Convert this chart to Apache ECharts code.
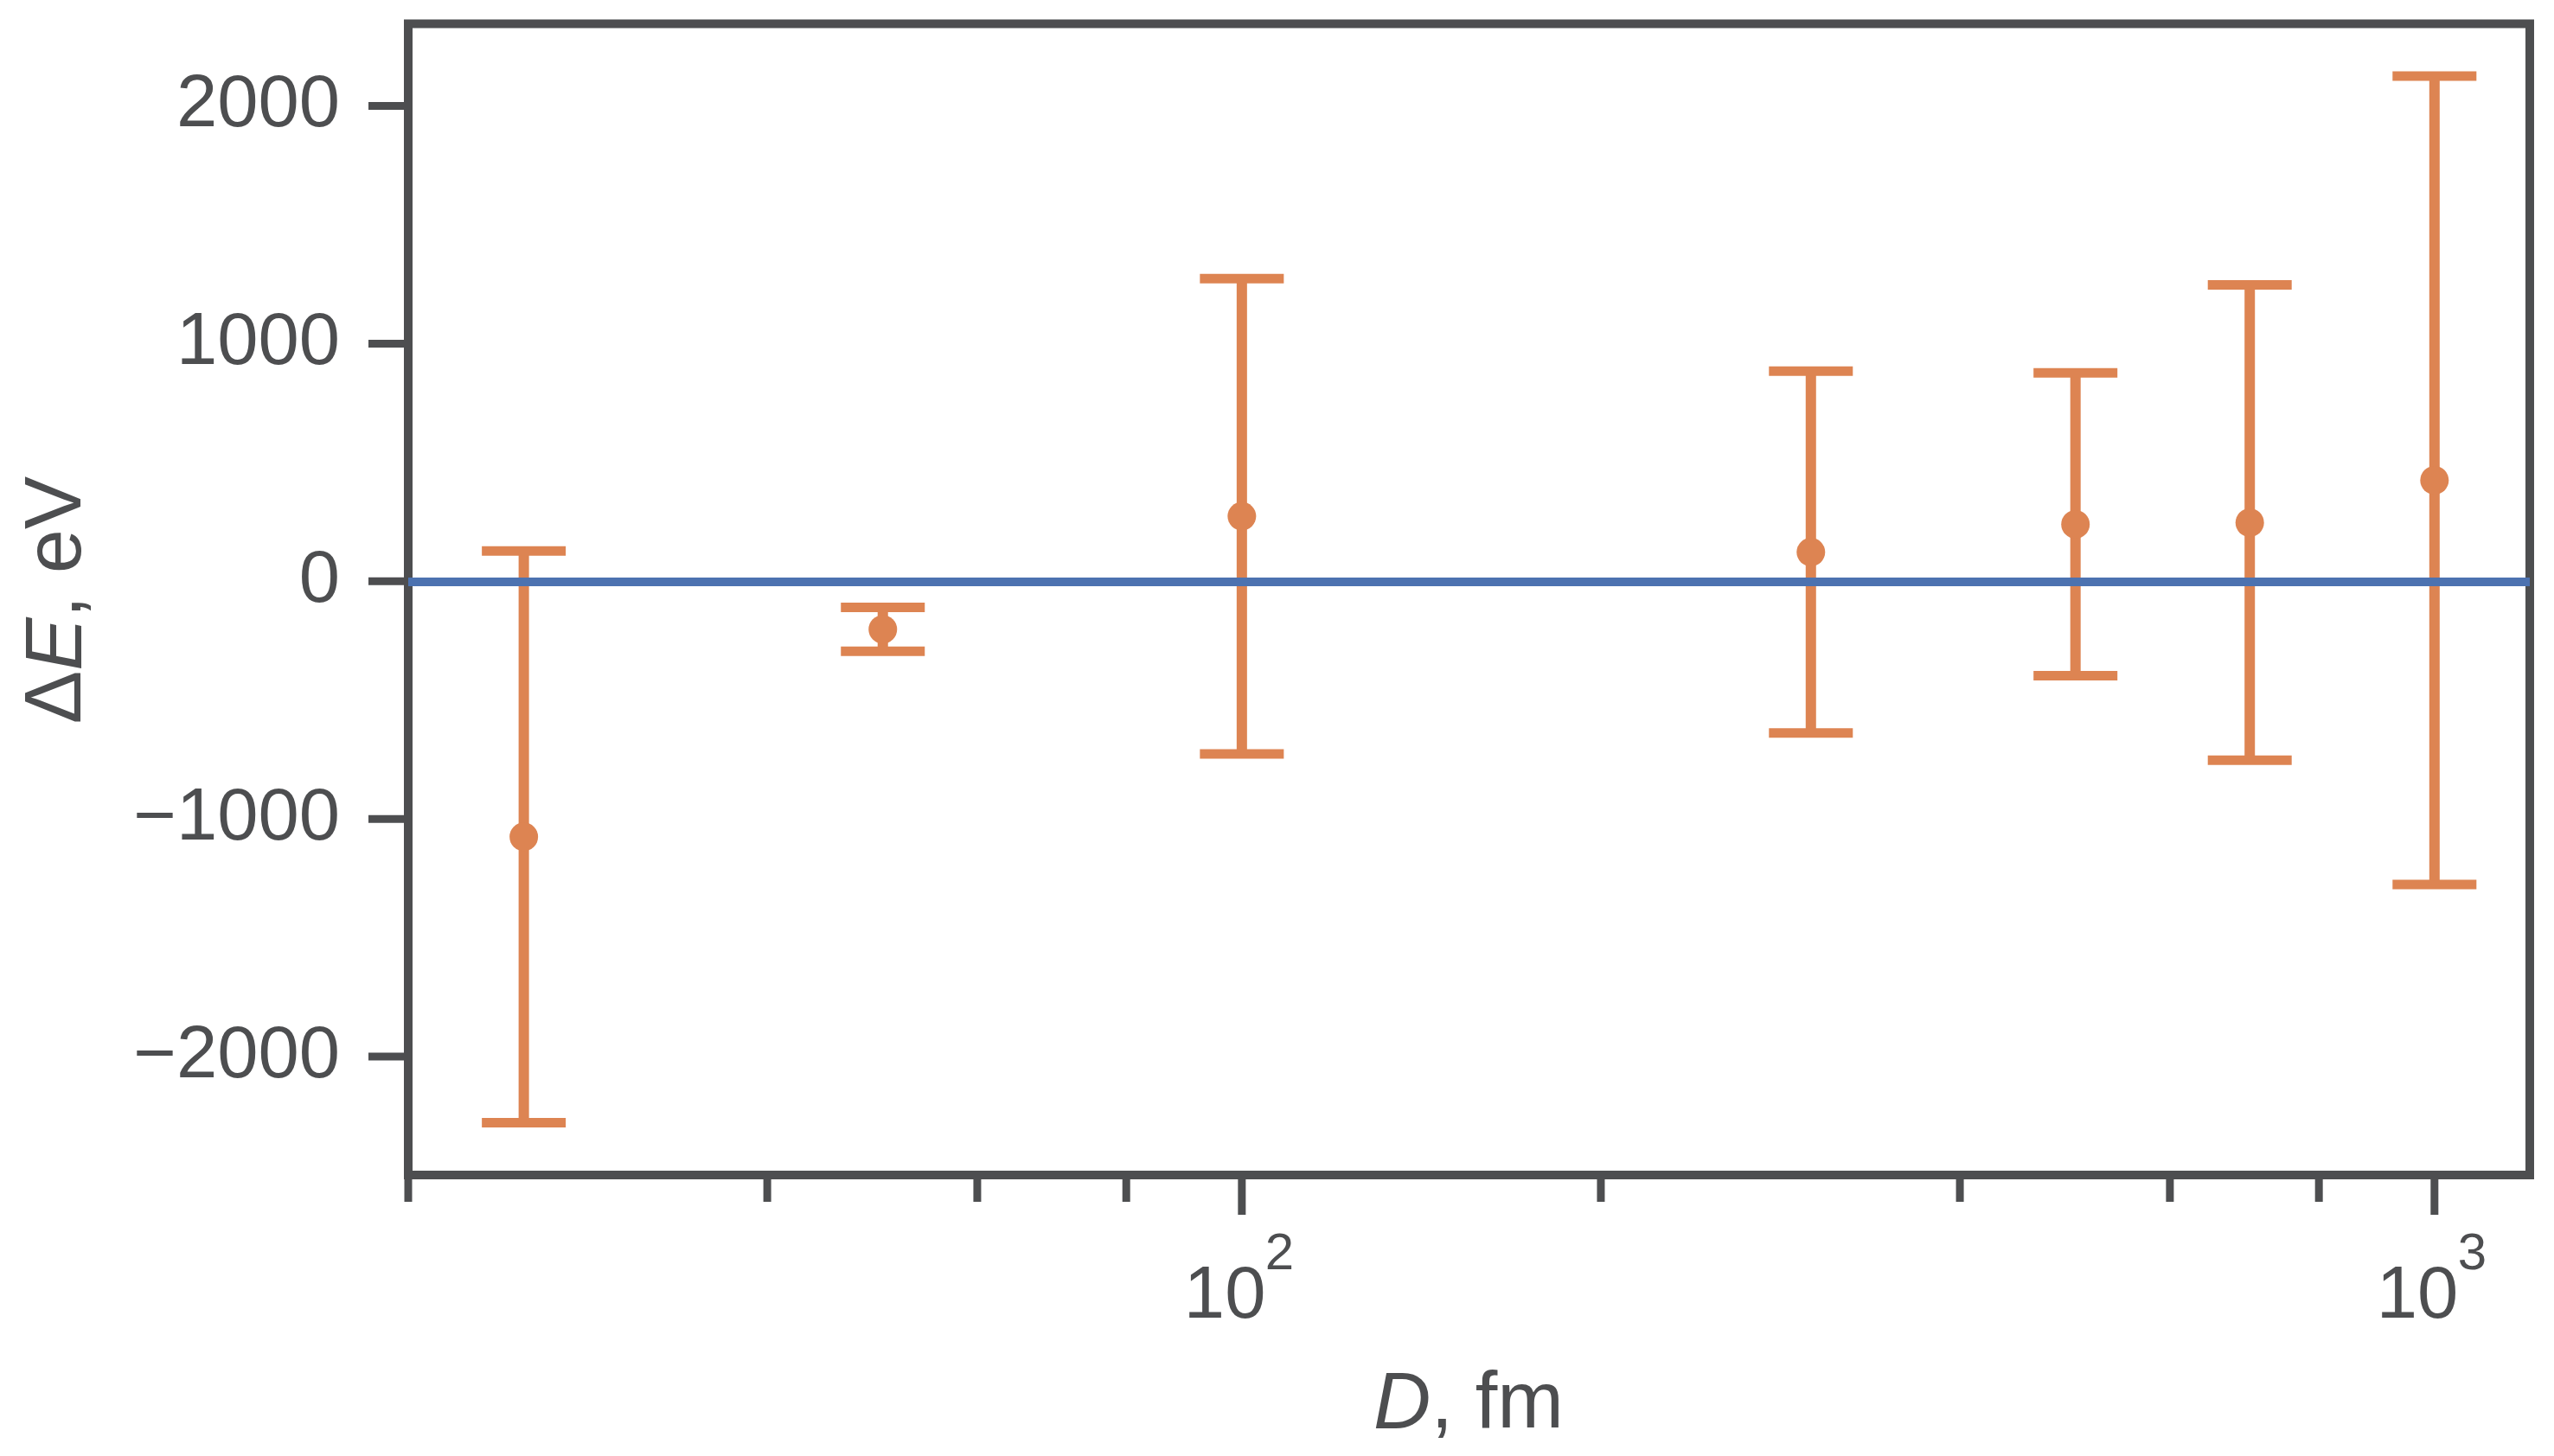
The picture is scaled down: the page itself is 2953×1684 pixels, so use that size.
<!DOCTYPE html>
<html>
<head>
<meta charset="utf-8">
<script src="https://cdn.jsdelivr.net/npm/echarts@6/dist/echarts.min.js"></script>
<style>
  html, body { margin: 0; padding: 0; background: #ffffff; }
  #chart { width: 2953px; height: 1684px; }
</style>
</head>
<body>
<div id="chart"></div>
<script>
// ---- data ----
const D_fm = [25, 50, 100, 300, 500, 700, 1000];
const dE_eV = [-1075, -202, 274, 123, 240, 247, 425];
const dE_err = [1203, 92, 1000, 761, 637, 1000, 1701];

const xMajorTicks = [100, 1000];
const xMajorExponents = ['2', '3'];
const xMinorTicks = [20, 40, 60, 80, 200, 400, 600, 800];
const yTicks = [-2000, -1000, 0, 1000, 2000];
const yTickLabels = ['\u22122000', '\u22121000', '0', '1000', '2000'];

const X_MIN = 20, X_MAX = 1202;
const Y_MIN = -2498, Y_MAX = 2346;

// ---- style ----
const INK = '#4d4e50';
const ORANGE = '#dd8452';
const BLUE = '#4c72b0';
const FONT = '"Liberation Sans", Arial, Helvetica, sans-serif';
const TICK_FS = 85;
const SUP_FS = 60;
const TITLE_FS = 92;
const SPINE_W = 10;

const chart = echarts.init(document.getElementById('chart'), null, { renderer: 'canvas' });

const errData = D_fm.map((d, i) => [d, dE_eV[i], dE_err[i]]);

function renderErr(params, api) {
  const x = api.value(0), y = api.value(1), e = api.value(2);
  const pc = api.coord([x, y]);
  const pt = api.coord([x, y + e]);
  const pb = api.coord([x, y - e]);
  const capHalf = 48.5;
  const st = { stroke: ORANGE, lineWidth: 12 };
  const cst = { stroke: ORANGE, lineWidth: 11 };
  return {
    type: 'group',
    children: [
      { type: 'line', shape: { x1: pt[0], y1: pt[1], x2: pb[0], y2: pb[1] }, style: st },
      { type: 'line', shape: { x1: pt[0] - capHalf, y1: pt[1], x2: pt[0] + capHalf, y2: pt[1] }, style: cst },
      { type: 'line', shape: { x1: pb[0] - capHalf, y1: pb[1], x2: pb[0] + capHalf, y2: pb[1] }, style: cst },
      { type: 'circle', shape: { cx: pc[0], cy: pc[1], r: 16.5 }, style: { fill: ORANGE } }
    ]
  };
}

function renderXTick(len) {
  return function (params, api) {
    const p = api.coord([api.value(0), Y_MIN]);
    return {
      type: 'line',
      shape: { x1: p[0], y1: p[1] + SPINE_W / 2, x2: p[0], y2: p[1] + SPINE_W / 2 + len },
      style: { stroke: INK, lineWidth: 9 }
    };
  };
}

function renderXMajor(params, api) {
  const p = api.coord([api.value(0), Y_MIN]);
  const exp = xMajorExponents[params.dataIndex];
  return {
    type: 'group',
    children: [
      {
        type: 'line',
        shape: { x1: p[0], y1: p[1] + SPINE_W / 2, x2: p[0], y2: p[1] + SPINE_W / 2 + 41 },
        style: { stroke: INK, lineWidth: 9 }
      },
      {
        type: 'text',
        x: p[0] - 67, y: p[1] + 142,
        style: { text: '10', fill: INK, font: TICK_FS + 'px ' + FONT, align: 'left', verticalAlign: 'middle' }
      },
      {
        type: 'text',
        x: p[0] + 27, y: p[1] + 92,
        style: { text: exp, fill: INK, font: SUP_FS + 'px ' + FONT, align: 'left', verticalAlign: 'middle' }
      }
    ]
  };
}

function renderYTick(params, api) {
  const p = api.coord([X_MIN, api.value(1)]);
  return {
    type: 'group',
    children: [
      {
        type: 'line',
        shape: { x1: p[0] - SPINE_W / 2, y1: p[1], x2: p[0] - SPINE_W / 2 - 41, y2: p[1] },
        style: { stroke: INK, lineWidth: 9 }
      },
      {
        type: 'text',
        x: p[0] - 79, y: p[1],
        style: { text: yTickLabels[params.dataIndex], fill: INK, font: TICK_FS + 'px ' + FONT, align: 'right', verticalAlign: 'middle' }
      }
    ]
  };
}

const option = {
  backgroundColor: '#ffffff',
  animation: false,
  grid: {
    left: 472, right: 28, top: 27.5, bottom: 325,
    show: true, borderColor: INK, borderWidth: SPINE_W, backgroundColor: 'transparent'
  },
  xAxis: {
    type: 'log', logBase: 10, min: X_MIN, max: X_MAX,
    axisLine: { show: false }, axisTick: { show: false }, axisLabel: { show: false }, splitLine: { show: false }
  },
  yAxis: {
    type: 'value', min: Y_MIN, max: Y_MAX,
    axisLine: { show: false }, axisTick: { show: false }, axisLabel: { show: false }, splitLine: { show: false }
  },
  graphic: [
    {
      type: 'text', x: 1698, y: 1626,
      style: {
        text: '{i|D}, fm', align: 'center', verticalAlign: 'middle',
        fill: INK, font: TITLE_FS + 'px ' + FONT,
        rich: { i: { fontStyle: 'italic', fontSize: TITLE_FS, fontFamily: FONT, fill: INK } }
      }
    },
    {
      type: 'text', x: 68, y: 694, rotation: Math.PI / 2,
      style: {
        text: '\u0394{i|E}, eV', align: 'center', verticalAlign: 'middle',
        fill: INK, font: TITLE_FS + 'px ' + FONT,
        rich: { i: { fontStyle: 'italic', fontSize: TITLE_FS, fontFamily: FONT, fill: INK } }
      }
    }
  ],
  series: [
    {
      type: 'line', data: [], symbol: 'none', z: 2,
      markLine: {
        silent: true, symbol: 'none', label: { show: false },
        lineStyle: { color: BLUE, width: 10, type: 'solid' },
        data: [{ yAxis: 0 }]
      }
    },
    { type: 'custom', renderItem: renderErr, data: errData, z: 3, clip: false },
    { type: 'custom', renderItem: renderXTick(26), data: xMinorTicks.map(v => [v, Y_MIN]), clip: false, silent: true },
    { type: 'custom', renderItem: renderXMajor, data: xMajorTicks.map(v => [v, Y_MIN]), clip: false, silent: true },
    { type: 'custom', renderItem: renderYTick, data: yTicks.map(v => [X_MIN, v]), clip: false, silent: true }
  ]
};

chart.setOption(option);
</script>
</body>
</html>
